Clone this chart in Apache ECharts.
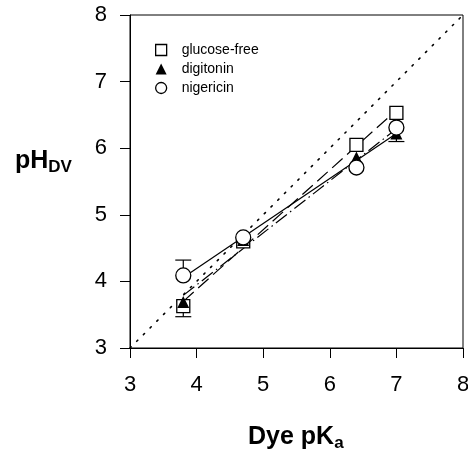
<!DOCTYPE html>
<html>
<head>
<meta charset="utf-8">
<script src="https://cdn.jsdelivr.net/npm/echarts@6/dist/echarts.min.js"></script>
<style>html,body{margin:0;padding:0;background:#fff}#c{width:468px;height:454px}</style>
</head>
<body>
<div id="c"></div>
<script>
var dyePKa = [3.8, 4.7, 6.4, 7.0];
var glucoseFree = [3.63, 4.60, 6.05, 6.53];
var digitonin = [3.69, 4.62, 5.86, 6.22];
var nigericin = [4.09, 4.66, 5.71, 6.31];
// straight fit lines at x = 3.8 and x = 7.0
var fitX = [3.8, 7.0];
var glucoseFreeFit = [3.70, 6.57];
var digitoninFit = [3.79, 6.29];
var nigericinFit = [4.06, 6.22];
var identityLine = [[3, 3], [8, 8]];
// error bars: [x, from, to]
var errGlucose = [[3.8, 3.63, 3.47]];
var errDigitonin = [[7.0, 6.22, 6.10]];
var errNigericin = [[3.8, 4.09, 4.32]];
var xTicks = [3, 4, 5, 6, 7, 8];
var yTicks = [3, 4, 5, 6, 7, 8];

function pairs(xs, ys) { return xs.map(function (x, i) { return [x, ys[i]]; }); }

function errSeries(name, data) {
  return {
    type: 'custom', name: name + '-err', z: 1, silent: true,
    renderItem: function (params, api) {
      var x = api.value(0), a = api.value(1), b = api.value(2);
      var p1 = api.coord([x, a]), p2 = api.coord([x, b]);
      var hw = 8;
      return {
        type: 'group', children: [
          { type: 'line', shape: { x1: p1[0], y1: p1[1], x2: p2[0], y2: p2[1] }, style: { stroke: '#000', lineWidth: 1.2 } },
          { type: 'line', shape: { x1: p2[0] - hw, y1: p2[1], x2: p2[0] + hw, y2: p2[1] }, style: { stroke: '#000', lineWidth: 1.2 } }
        ]
      };
    },
    data: data
  };
}

var font = 'Liberation Sans, Arial';
var chart = echarts.init(document.getElementById('c'));
chart.setOption({
  animation: false,
  backgroundColor: '#fff',
  grid: { left: 130, right: 5, top: 15, bottom: 106, show: true, borderColor: '#000', borderWidth: 1,
    outerBoundsMode: 'none', containLabel: false },
  xAxis: {
    type: 'value', min: 3, max: 8, interval: 1,
    axisLine: { show: true, lineStyle: { color: '#000', width: 1 } },
    axisTick: { show: true, inside: false, length: 10, lineStyle: { color: '#000' } },
    axisLabel: { margin: 26, fontSize: 22, color: '#000', fontFamily: font,
      formatter: function (v) { return xTicks.indexOf(v) >= 0 ? String(v) : ''; } },
    splitLine: { show: false }
  },
  yAxis: {
    type: 'value', min: 3, max: 8, interval: 1,
    axisLine: { show: true, lineStyle: { color: '#000', width: 1 } },
    axisTick: { show: true, inside: false, length: 10, lineStyle: { color: '#000' } },
    axisLabel: { margin: 23, fontSize: 22, color: '#000', fontFamily: font,
      formatter: function (v) { return yTicks.indexOf(v) >= 0 ? String(v) : ''; } },
    splitLine: { show: false }
  },
  title: [
    { text: 'pH{s|DV}', left: 10, top: 142,
      textStyle: { fontSize: 25, fontWeight: 'bold', color: '#000', fontFamily: font,
        rich: { s: { fontSize: 17, fontWeight: 'bold', color: '#000', fontFamily: font, verticalAlign: 'bottom', padding: [12, 0, 0, 0] } } } },
    { text: 'Dye pK{s|a}', left: 243, top: 418,
      textStyle: { fontSize: 25, fontWeight: 'bold', color: '#000', fontFamily: font,
        rich: { s: { fontSize: 17, fontWeight: 'bold', color: '#000', fontFamily: font, verticalAlign: 'bottom', padding: [12, 0, 0, 0] } } } }
  ],
  legend: {
    orient: 'vertical', left: 150, top: 38, itemWidth: 11, itemHeight: 11, itemGap: 5,
    textStyle: { fontSize: 14, color: '#000', fontFamily: font, padding: [0, 0, 0, 10], lineHeight: 14 },
    data: [
      { name: 'glucose-free', icon: 'rect', itemStyle: { color: '#fff', borderColor: '#000', borderWidth: 1.3 } },
      { name: 'digitonin', icon: 'triangle', itemStyle: { color: '#000', borderColor: '#000', borderWidth: 0 } },
      { name: 'nigericin', icon: 'circle', itemStyle: { color: '#fff', borderColor: '#000', borderWidth: 1.3 } }
    ]
  },
  series: [
    { type: 'line', name: 'identity', data: identityLine, symbol: 'none', z: 0, silent: true,
      lineStyle: { color: '#000', width: 1.6, type: [1.5, 8], cap: 'round' } },
    { type: 'line', name: 'glucose-free fit', data: pairs(fitX, glucoseFreeFit), symbol: 'none', z: 1, silent: true,
      lineStyle: { color: '#000', width: 1.2, type: [14, 6] } },
    { type: 'line', name: 'digitonin fit', data: pairs(fitX, digitoninFit), symbol: 'none', z: 1, silent: true,
      lineStyle: { color: '#000', width: 1.2, type: [14, 4, 1.5, 4] } },
    { type: 'line', name: 'nigericin fit', data: pairs(fitX, nigericinFit), symbol: 'none', z: 1, silent: true,
      lineStyle: { color: '#000', width: 1.2, type: 'solid' } },
    errSeries('glucose-free', errGlucose),
    errSeries('digitonin', errDigitonin),
    errSeries('nigericin', errNigericin),
    { type: 'scatter', name: 'glucose-free', data: pairs(dyePKa, glucoseFree), z: 2,
      symbol: 'rect', symbolSize: 13,
      itemStyle: { color: '#fff', borderColor: '#000', borderWidth: 1.3, opacity: 1 } },
    { type: 'scatter', name: 'digitonin', data: pairs(dyePKa, digitonin), z: 3,
      symbol: 'triangle', symbolSize: 12,
      itemStyle: { color: '#000', borderColor: '#000', borderWidth: 0, opacity: 1 } },
    { type: 'scatter', name: 'nigericin', data: pairs(dyePKa, nigericin), z: 4,
      symbol: 'circle', symbolSize: 15,
      itemStyle: { color: '#fff', borderColor: '#000', borderWidth: 1.3, opacity: 1 } }
  ]
});
</script>
</body>
</html>
